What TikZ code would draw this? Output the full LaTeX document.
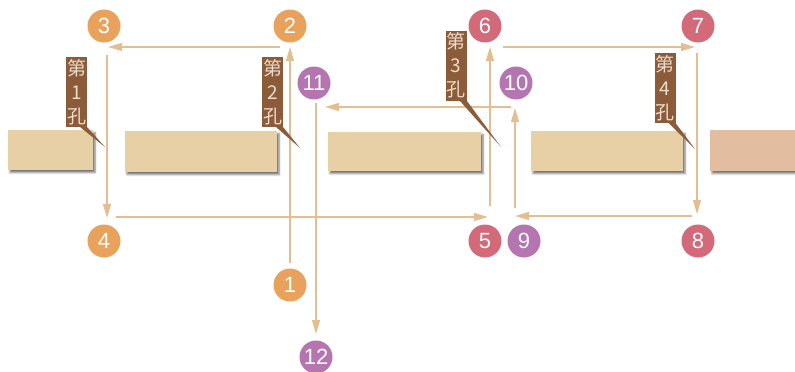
\documentclass[tikz,border=0pt]{standalone}
\usepackage{fontspec}
\setmainfont{Liberation Sans}
\newfontfamily\cjk{Noto Sans CJK SC}
\usetikzlibrary{arrows.meta,shadows.blur,calc}
\definecolor{corange}{HTML}{E9A25C}
\definecolor{cred}{HTML}{D26A7A}
\definecolor{cpurple}{HTML}{B575B1}
\definecolor{cline}{HTML}{E2BE90}
\definecolor{cbrown}{HTML}{8C5B3A}
\definecolor{clabtext}{HTML}{ECDCCB}
\definecolor{cblock}{HTML}{E7CFA6}
\definecolor{cblockb}{HTML}{E2BD9F}
\tikzset{
  num/.style={circle, minimum size=33pt, inner sep=0pt, text=white,
    font=\fontsize{22}{22}\selectfont},
  numo/.style={num, fill=corange},
  numr/.style={num, fill=cred},
  nump/.style={num, fill=cpurple},
  flow/.style={draw=cline, line width=1.3pt, -{Triangle[length=14pt,width=8pt]}},
  block/.style={fill=#1, blur shadow={shadow xshift=2pt, shadow yshift=-2.5pt, shadow blur radius=2pt, shadow opacity=55}},
  labbox/.style={fill=cbrown, text=clabtext, minimum width=21pt, minimum height=70pt,
    inner sep=0pt, text width=21pt, align=center, font=\cjk\fontsize{19}{24}\selectfont},
}
\begin{document}
\begin{tikzpicture}[x=1pt,y=-1pt]
\useasboundingbox (0,0) rectangle (795,372);
% blocks
\fill[block=cblock] (8,130) rectangle (93,170);
\fill[block=cblock] (125,131) rectangle (277,172);
\fill[block=cblock] (328,132) rectangle (481,171);
\fill[block=cblock] (531,131) rectangle (683,171);
\fill[block=cblockb] (710,130) rectangle (800,171);
% numbered circles
\node[numo] (n1) at (290,285) {1};
\node[numo] (n2) at (290,26) {2};
\node[numo] (n3) at (104,26) {3};
\node[numo] (n4) at (104,241) {4};
\node[numr] (n5) at (485,241) {5};
\node[numr] (n6) at (485,26) {6};
\node[numr] (n7) at (698,26) {7};
\node[numr] (n8) at (698,241) {8};
\node[nump] (n9) at (524,241) {9};
\node[nump] (n10) at (516,83) {10};
\node[nump] (n11) at (314,83) {11};
\node[nump] (n12) at (316,357) {12};
% connectors
\draw[flow] ($(n1.center)+(0,-22)$) -- ($(n2.center)+(0,21)$);
\draw[flow] ($(n2.center)+(-10,21)$) -- ($(n3.center)+(4,21)$);
\draw[flow] ($(n3.center)+(3,29)$) -- ($(n4.center)+(3,-23)$);
\draw[flow] ($(n4.center)+(12,-24)$) -- ($(n5.center)+(3,-24)$);
\draw[flow] ($(n5.center)+(5,-35)$) -- ($(n6.center)+(5,21)$);
\draw[flow] ($(n6.center)+(18,21)$) -- ($(n7.center)+(-3,21)$);
\draw[flow] ($(n7.center)+(-1,27)$) -- ($(n8.center)+(-1,-27)$);
\draw[flow] ($(n8.center)+(-6,-25)$) -- ($(n9.center)+(-9,-25)$);
\draw[flow] ($(n9.center)+(-9,-33)$) -- ($(n10.center)+(-1,25)$);
\draw[flow] ($(n10.center)+(-5,24)$) -- ($(n11.center)+(11,24)$);
\draw[flow] ($(n11.center)+(2,20)$) -- ($(n12.center)+(0,-23)$);
% hole labels
\node[labbox] (l1) at (76.5,92) {第\\1\\孔};
\node[labbox] (l2) at (272.5,92) {第\\2\\孔};
\node[labbox] (l3) at (456,65.5) {第\\3\\孔};
\node[labbox] (l4) at (665,88) {第\\4\\孔};
\coordinate (t1) at (105,147);
\coordinate (t2) at (300,148);
\coordinate (t3) at (501,147);
\coordinate (t4) at (695,149);
\fill[cbrown] ($(l1.south east)+(-7,0)$) -- (l1.south east) -- (t1) -- cycle;
\fill[cbrown] ($(l2.south east)+(-7,0)$) -- (l2.south east) -- (t2) -- cycle;
\fill[cbrown] ($(l3.south east)+(-7,0)$) -- (l3.south east) -- (t3) -- cycle;
\fill[cbrown] ($(l4.south east)+(-7,0)$) -- (l4.south east) -- (t4) -- cycle;
\end{tikzpicture}
\end{document}
